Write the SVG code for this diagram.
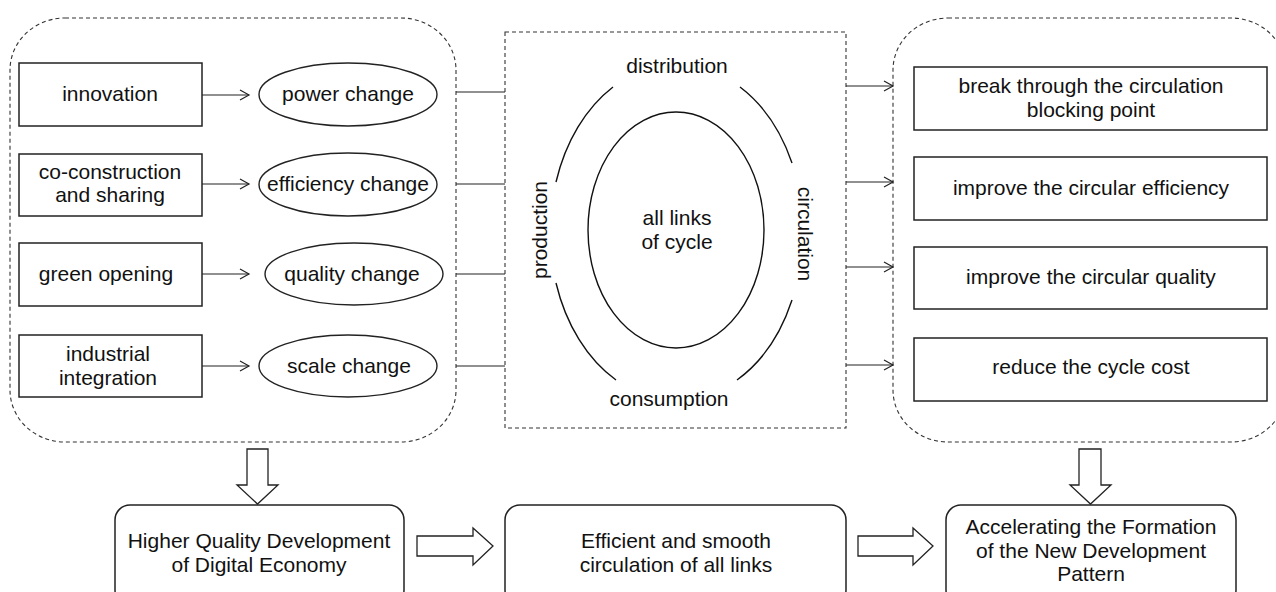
<svg xmlns="http://www.w3.org/2000/svg" width="1276" height="592" viewBox="0 0 1276 592">
<defs>
<style>
text{font-family:"Liberation Sans",Arial,sans-serif;font-size:21px;fill:#111;text-anchor:middle}
.box{fill:#fff;stroke:#222;stroke-width:1.5}
.ell{fill:#fff;stroke:#222;stroke-width:1.4}
.dash{fill:none;stroke:#333;stroke-width:1.1;stroke-dasharray:4 3}
.ln{fill:none;stroke:#222;stroke-width:1.2}
.arc{fill:none;stroke:#111;stroke-width:1.4}
.big{fill:#fff;stroke:#222;stroke-width:1.3}
</style>
<marker id="ah" markerWidth="12" markerHeight="12" refX="10" refY="6" orient="auto" markerUnits="userSpaceOnUse">
<path d="M1,1 L10,6 L1,11" fill="none" stroke="#222" stroke-width="1.2"/>
</marker>
</defs>

<g id="panel-left"><rect class="dash" x="10" y="18" width="446" height="424" rx="55" ry="52"/></g>
<g id="panel-center"><rect class="dash" x="505" y="32" width="341" height="396"/></g>
<g id="panel-right"><rect class="dash" x="893" y="18" width="393" height="424" rx="55" ry="52"/></g>

<g id="n-innovation"><rect class="box" x="19" y="63" width="183" height="63"/><text x="110" y="101">innovation</text></g>
<g id="n-coconstruction"><rect class="box" x="19" y="154" width="183" height="62"/><text x="110" y="179">co-construction</text><text x="110" y="202">and sharing</text></g>
<g id="n-green"><rect class="box" x="19" y="243" width="183" height="63"/><text x="106" y="281">green opening</text></g>
<g id="n-industrial"><rect class="box" x="19" y="335" width="183" height="62"/><text x="108" y="361">industrial</text><text x="108" y="385">integration</text></g>

<g id="n-power"><ellipse class="ell" cx="348" cy="94.5" rx="89" ry="31.5"/><text x="348" y="101">power change</text></g>
<g id="n-efficiency"><ellipse class="ell" cx="348" cy="184.5" rx="89" ry="31.5"/><text x="348" y="191">efficiency change</text></g>
<g id="n-quality"><ellipse class="ell" cx="354" cy="274" rx="89" ry="31"/><text x="352" y="281">quality change</text></g>
<g id="n-scale"><ellipse class="ell" cx="348" cy="366" rx="89" ry="31"/><text x="349" y="373">scale change</text></g>

<g id="n-cycle">
<ellipse class="arc" cx="676" cy="230" rx="88" ry="118"/>
<text x="677" y="225">all links</text><text x="677" y="249">of cycle</text>
<path class="arc" d="M613,87 A124,168 0 0 0 556,182"/>
<path class="arc" d="M740,87 A124,168 0 0 1 792,163"/>
<path class="arc" d="M556,283 A124,168 0 0 0 616,380"/>
<path class="arc" d="M792,300 A124,168 0 0 1 737,380"/>
<text x="677" y="73">distribution</text>
<text x="669" y="406">consumption</text>
<text transform="translate(547,230) rotate(-90)">production</text>
<text transform="translate(798,234) rotate(90)">circulation</text>
</g>

<g id="n-break"><rect class="box" x="914" y="67" width="353" height="63"/><text x="1091" y="93">break through the circulation</text><text x="1091" y="117">blocking point</text></g>
<g id="n-eff"><rect class="box" x="914" y="157" width="353" height="63"/><text x="1091" y="195">improve the circular efficiency</text></g>
<g id="n-qual"><rect class="box" x="914" y="247" width="353" height="62"/><text x="1091" y="284">improve the circular quality</text></g>
<g id="n-cost"><rect class="box" x="914" y="338" width="353" height="63"/><text x="1091" y="374">reduce the cycle cost</text></g>

<g id="n-higher"><rect class="box" x="115" y="505" width="289" height="100" rx="15"/><text x="259" y="548">Higher Quality Development</text><text x="259" y="572">of Digital Economy</text></g>
<g id="n-efficient"><rect class="box" x="505" y="505" width="341" height="100" rx="15"/><text x="676" y="548">Efficient and smooth</text><text x="676" y="572">circulation of all links</text></g>
<g id="n-accel"><rect class="box" x="946" y="505" width="290" height="100" rx="15"/><text x="1091" y="534">Accelerating the Formation</text><text x="1091" y="558">of the New Development</text><text x="1091" y="581">Pattern</text></g>

<g id="connectors">
<line class="ln" x1="202" y1="95" x2="249" y2="95" marker-end="url(#ah)"/>
<line class="ln" x1="202" y1="184" x2="249" y2="184" marker-end="url(#ah)"/>
<line class="ln" x1="202" y1="274" x2="249" y2="274" marker-end="url(#ah)"/>
<line class="ln" x1="202" y1="366" x2="249" y2="366" marker-end="url(#ah)"/>
<line class="ln" x1="456" y1="92" x2="505" y2="92"/>
<line class="ln" x1="456" y1="184" x2="505" y2="184"/>
<line class="ln" x1="456" y1="274" x2="505" y2="274"/>
<line class="ln" x1="456" y1="366" x2="505" y2="366"/>
<line class="ln" x1="846" y1="86" x2="893" y2="86" marker-end="url(#ah)"/>
<line class="ln" x1="846" y1="182" x2="893" y2="182" marker-end="url(#ah)"/>
<line class="ln" x1="846" y1="267" x2="893" y2="267" marker-end="url(#ah)"/>
<line class="ln" x1="846" y1="365" x2="893" y2="365" marker-end="url(#ah)"/>
<path class="big" d="M247,449 H268 V485 H278 L257.5,504 L237,485 H247 Z"/>
<path class="big" d="M1079,449 H1101 V485 H1111 L1090.5,504 L1070,485 H1079 Z"/>
<path class="big" d="M417,536 H473 V528 L493,546 L473,565 V556 H417 Z"/>
<path class="big" d="M858,536 H913 V528 L933,546 L913,565 V556 H858 Z"/>
</g>
</svg>
